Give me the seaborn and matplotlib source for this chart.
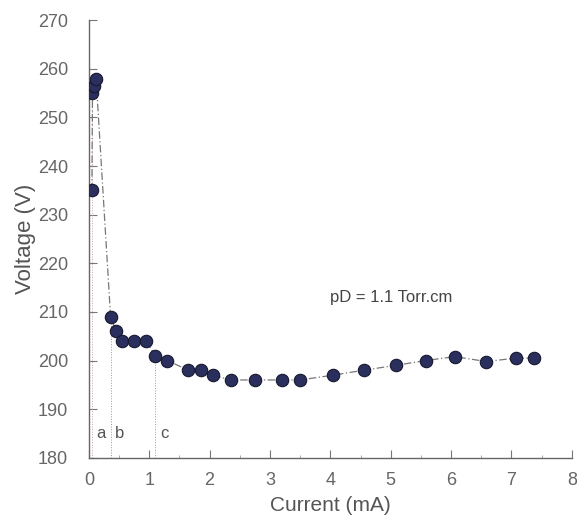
import pandas as pd
import seaborn as sns
import matplotlib.pyplot as plt
from matplotlib.ticker import MultipleLocator

current = [0.05, 0.06, 0.09, 0.12, 0.36, 0.45, 0.55, 0.75, 0.95, 1.1, 1.3, 1.65, 1.85,
           2.05, 2.35, 2.75, 3.2, 3.5, 4.05, 4.55, 5.08, 5.58, 6.06, 6.58, 7.08, 7.37]
voltage = [235, 255, 256.5, 258, 209, 206, 204, 204, 204, 201, 200, 198, 198,
           197, 196, 196, 196, 196, 197, 198, 199, 200, 200.8, 199.8, 200.5, 200.5]
marks = ["a", "b", "c"]
mark_x = [0.05, 0.36, 1.1]
mark_top = [255, 209, 201]

df = pd.DataFrame({"Current (mA)": current, "Voltage (V)": voltage})

sns.set_style("white")
plt.rcParams["font.family"] = ["Liberation Sans", "DejaVu Sans"]

fig = plt.figure(figsize=(5.77, 5.19), dpi=100)
ax = fig.add_axes([0.154, 0.118, 0.837, 0.843])

sns.lineplot(data=df, x="Current (mA)", y="Voltage (V)", ax=ax, sort=False,
             color="#777777", lw=0.9, linestyle=(0, (6, 2, 1, 2)), zorder=2)
sns.scatterplot(data=df, x="Current (mA)", y="Voltage (V)", ax=ax, s=80,
                color="#2a2f5e", edgecolor="#15182e", linewidth=0.8, zorder=3)

for m, xm, top in zip(marks, mark_x, mark_top):
    ax.plot([xm, xm], [180, top], color="#c9a0a8" if m == "a" else "#999999",
            lw=0.7, linestyle=":", zorder=1)
    ax.text(xm + 0.08, 185, m, fontsize=12, color="#555555", va="center")

ax.text(4.0, 213, "pD = 1.1 Torr.cm", fontsize=12, color="#444444", va="center")

ax.set_xlim(0, 8)
ax.set_ylim(180, 270)
ax.xaxis.set_major_locator(MultipleLocator(1))
ax.xaxis.set_minor_locator(MultipleLocator(0.5))
ax.yaxis.set_major_locator(MultipleLocator(10))
ax.tick_params(axis="both", which="both", bottom=True, left=True)
ax.tick_params(axis="both", which="major", direction="in", length=6, width=0.8,
               colors="#777777", labelcolor="#666666", labelsize=13)
ax.tick_params(axis="x", which="minor", direction="in", length=2, width=0.6,
               colors="#999999")
ax.tick_params(axis="x", pad=10)
ax.tick_params(axis="y", pad=15)
ax.set_xlabel("Current (mA)", fontsize=15, color="#555555", labelpad=5)
ax.set_ylabel("Voltage (V)", fontsize=16, color="#555555", labelpad=1)
for side in ["top", "right"]:
    ax.spines[side].set_visible(False)
for side in ["left", "bottom"]:
    ax.spines[side].set_color("#666666")
    ax.spines[side].set_linewidth(1.0)

fig.savefig("out.png", dpi=100)
